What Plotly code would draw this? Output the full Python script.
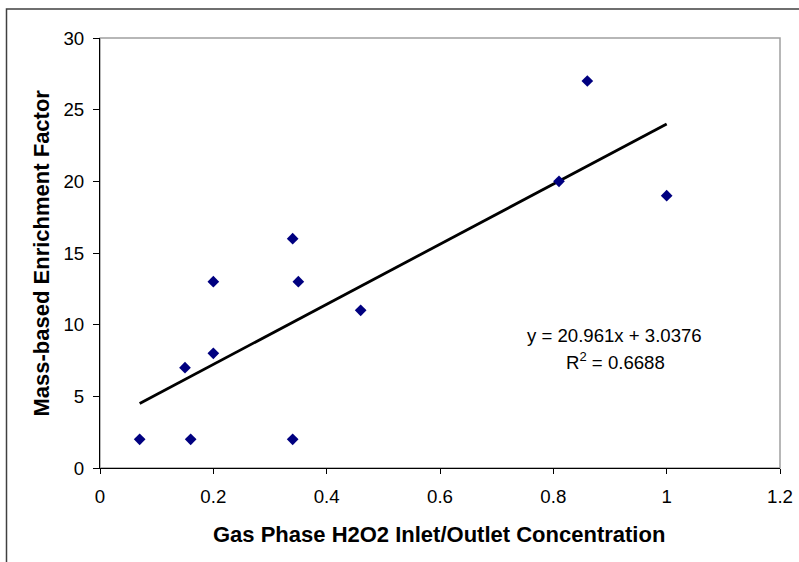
import numpy as np
import plotly.graph_objects as go

# Data
x_vals = [0.07, 0.15, 0.16, 0.20, 0.20, 0.34, 0.35, 0.34, 0.46, 0.81, 0.86, 1.00]
y_vals = [2, 7, 2, 8, 13, 16, 13, 2, 11, 20, 27, 19]
x_ticks = [0, 0.2, 0.4, 0.6, 0.8, 1, 1.2]
y_ticks = [0, 5, 10, 15, 20, 25, 30]
x_title = "Gas Phase H2O2 Inlet/Outlet Concentration"
y_title = "Mass-based Enrichment Factor"

# Linear trendline from data
slope, intercept = np.polyfit(x_vals, y_vals, 1)
pred = slope * np.array(x_vals) + intercept
ss_res = np.sum((np.array(y_vals) - pred) ** 2)
ss_tot = np.sum((np.array(y_vals) - np.mean(y_vals)) ** 2)
r2 = 1 - ss_res / ss_tot
tx = [min(x_vals), max(x_vals)]
ty = [slope * v + intercept for v in tx]

FONT = "Liberation Sans, Arial, sans-serif"

fig = go.Figure()
fig.add_trace(go.Scatter(x=tx, y=ty, mode="lines",
                         line=dict(color="black", width=2.8),
                         hoverinfo="skip", showlegend=False))
fig.add_trace(go.Scatter(x=x_vals, y=y_vals, mode="markers",
                         marker=dict(symbol="diamond", size=9, color="#000080",
                                     line=dict(width=0)),
                         showlegend=False))

fig.update_layout(
    template="none",
    width=799, height=562,
    margin=dict(l=100, r=19, t=38, b=94, pad=0, autoexpand=False),
    paper_bgcolor="white", plot_bgcolor="white",
    font=dict(family=FONT, color="black"),
    xaxis=dict(range=[0, 1.2], tickvals=x_ticks, ticktext=[f"{v:g}" for v in x_ticks],
               showgrid=False, zeroline=False, showline=True, linecolor="black",
               linewidth=1, ticks="outside", ticklen=5, tickcolor="black",
               tickfont=dict(size=18.7, family=FONT, color="black"),
               ticklabelstandoff=7, fixedrange=True, automargin=False),
    yaxis=dict(range=[0, 30], tickvals=y_ticks,
               showgrid=False, zeroline=False, showline=True, linecolor="black",
               linewidth=1, ticks="outside", ticklen=6, tickcolor="black",
               tickfont=dict(size=18.7, family=FONT, color="black"),
               ticklabelstandoff=5, fixedrange=True, automargin=False),
    shapes=[
        # plot area border (gray)
        dict(type="rect", xref="paper", yref="paper", x0=0, y0=0, x1=1, y1=1,
             line=dict(color="#a0a0a0", width=1.5), layer="below"),
        # outer chart border
        dict(type="rect", xref="paper", yref="paper",
             x0=(6.5 - 100) / 680, x1=(810 - 100) / 680,
             y0=(468 - 580) / 430, y1=(468 - 9) / 430,
             line=dict(color="#404040", width=1.5), layer="below"),
    ],
    annotations=[
        dict(text=f"<b>{x_title}</b>", xref="paper", yref="paper",
             x=(439 - 100) / 680, y=(468 - 534) / 430, showarrow=False,
             xanchor="center", yanchor="middle", font=dict(size=22, family=FONT)),
        dict(text=f"<b>{y_title}</b>", xref="paper", yref="paper",
             x=(41 - 100) / 680, y=(468 - 253.5) / 430, showarrow=False, textangle=-90,
             xanchor="center", yanchor="middle", font=dict(size=22, family=FONT)),
        dict(text=f"y = {slope:.3f}x + {intercept:.4f}", xref="paper", yref="paper",
             x=(614.5 - 100) / 680, y=(468 - 335) / 430, showarrow=False,
             xanchor="center", yanchor="middle", font=dict(size=18.6, family=FONT)),
        dict(text=f"R<sup>2</sup> = {r2:.4f}", xref="paper", yref="paper",
             x=(615 - 100) / 680, y=(468 - 361) / 430, showarrow=False,
             xanchor="center", yanchor="middle", font=dict(size=18.6, family=FONT)),
    ],
)

fig.write_html("out.html", config={"displayModeBar": False},
               post_script="document.body.style.margin='0';")
